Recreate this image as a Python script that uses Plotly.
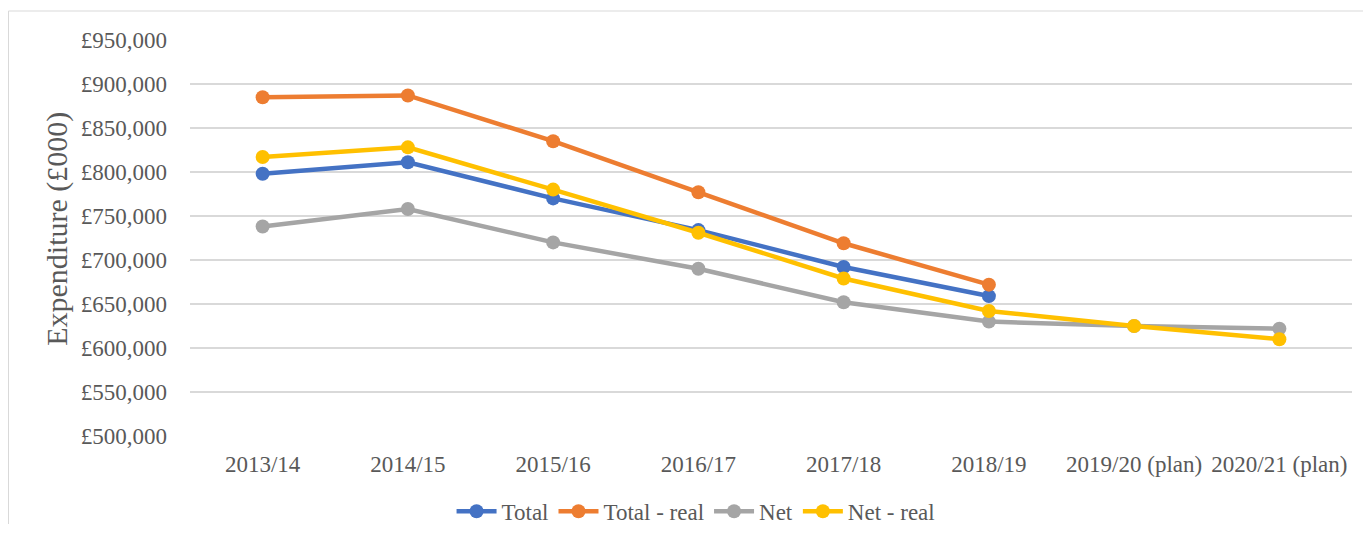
import plotly.graph_objects as go

categories = ["2013/14", "2014/15", "2015/16", "2016/17", "2017/18", "2018/19",
              "2019/20 (plan)", "2020/21 (plan)"]
total = [798000, 811000, 770000, 734000, 692000, 659000, None, None]
total_real = [885000, 887000, 835000, 777000, 719000, 672000, None, None]
net = [738000, 758000, 720000, 690000, 652000, 630000, 625000, 622000]
net_real = [817000, 828000, 780000, 731000, 679000, 642000, 625000, 610000]

series_names = ["Total", "Total - real", "Net", "Net - real"]
series_values = [total, total_real, net, net_real]
colors = ["#4472C4", "#ED7D31", "#A5A5A5", "#FFC000"]

FONT = "Liberation Serif, Times New Roman, serif"
TXT = "#595959"

fig = go.Figure()
for name, vals, col in zip(series_names, series_values, colors):
    fig.add_trace(go.Scatter(
        x=categories, y=vals, name=name, mode="lines+markers",
        line=dict(color=col, width=4.5),
        marker=dict(color=col, size=14),
        connectgaps=False,
    ))

# page body has an 8px margin; figure is sized/offset to compensate
fig.update_layout(
    width=1355, height=516,
    margin=dict(l=182, r=11, t=32, b=88, autoexpand=False),
    paper_bgcolor="white", plot_bgcolor="white",
    font=dict(family=FONT, color=TXT, size=23),
    showlegend=True,
    legend=dict(orientation="h", x=0.4355, xanchor="center", y=-0.19, yanchor="middle",
                font=dict(family=FONT, size=23, color=TXT), itemwidth=40,
                traceorder="normal"),
    xaxis=dict(type="category", range=[-0.5, 7.5], showgrid=False, zeroline=False,
               showline=False, ticks="", ticklabelstandoff=12,
               tickfont=dict(family=FONT, size=23, color=TXT)),
    yaxis=dict(range=[500000, 950000], dtick=50000, tick0=500000, tickprefix="£",
               tickformat=",d", showgrid=True, gridcolor="#D9D9D9", gridwidth=1.5,
               zeroline=False, showline=False, ticks="", ticklabelstandoff=22,
               tickfont=dict(family=FONT, size=23, color=TXT)),
    annotations=[dict(text="Expenditure (£000)", xref="paper", yref="paper",
                      x=-0.1145, y=0.523, textangle=-90, showarrow=False,
                      xanchor="center", yanchor="middle",
                      font=dict(family=FONT, size=30, color=TXT))],
    shapes=[dict(type="rect", xref="paper", yref="paper",
                 x0=-0.1562, x1=1.05, y0=-0.4, y1=1.0732,
                 line=dict(color="#D9D9D9", width=1), fillcolor="rgba(0,0,0,0)",
                 layer="below")],
)

fig.write_html("out.html")
